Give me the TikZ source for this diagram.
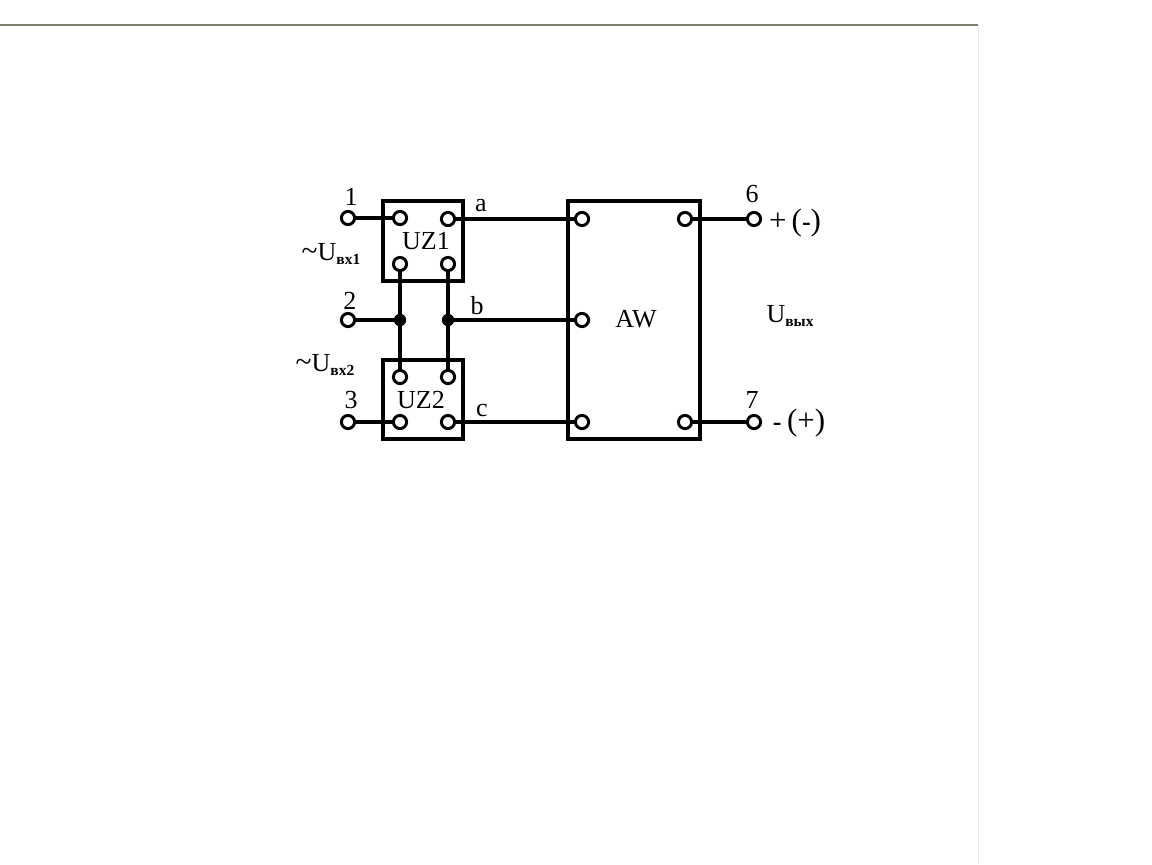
\documentclass[tikz,border=0pt]{standalone}
\usepackage{fontspec}
\setmainfont{Liberation Serif}
\usepackage{xcolor}
\usetikzlibrary{positioning}
\definecolor{pagerule}{RGB}{128,128,112}
\definecolor{pageedge}{RGB}{232,232,232}
\tikzstyle{wire} = [line width=2.3pt,black]
\newcommand{\subtxt}[1]{\raisebox{-0.35ex}{\fontsize{11}{12}\selectfont\bfseries #1}}
\newcommand{\bigtilde}{{\fontsize{21}{21}\selectfont\textasciitilde}}
\newcommand{\bigpar}[1]{{\fontsize{22}{22}\selectfont #1}}

\begin{document}
\begin{tikzpicture}[x=0.025cm, y=-0.025cm,
    block/.style={rectangle, draw, line width=2.3pt, inner sep=0pt},
    pin/.style={circle, draw, fill=white, line width=2.1pt, minimum size=0.33cm, inner sep=0pt, outer sep=0pt},
    junction/.style={circle, fill=black, minimum size=0.31cm, inner sep=0pt, outer sep=0pt},
    txt/.style={font=\fontsize{18.5}{20}\selectfont, inner sep=0pt}
]
  \useasboundingbox (0,0) rectangle (1152,864);

  % --- Page edges ---
  \coordinate (ruleL) at (0,25);
  \coordinate (ruleR) at (978,25);
  \coordinate (edgeB) at (978,864);
  \draw[pageedge, line width=0.7pt] (ruleR) -- (edgeB);
  \draw[pagerule, line width=1pt] (ruleL) -- (ruleR);

  % --- Blocks ---
  \node[block, minimum width=2cm,   minimum height=2cm]    (UZ1) at (423,241)   {};
  \node[block, minimum width=2cm,   minimum height=1.975cm] (UZ2) at (423,399.5) {};
  \node[block, minimum width=3.3cm, minimum height=5.95cm] (AW)  at (634,320)   {};

  % --- Terminals ---
  \node[pin] (T1) at (348,218) {};
  \node[pin] (T2) at (348,320) {};
  \node[pin] (T3) at (348,422) {};
  \node[pin] (T6) at (754,219) {};
  \node[pin] (T7) at (754,422) {};

  % --- Pins of the blocks ---
  \node[pin] (P1a) at (400,218) {};
  \node[pin] (P1b) at (448,219) {};
  \node[pin] (P1c) at (400,264) {};
  \node[pin] (P1d) at (448,264) {};
  \node[pin] (P2a) at (400,377) {};
  \node[pin] (P2b) at (448,377) {};
  \node[pin] (P2c) at (400,422) {};
  \node[pin] (P2d) at (448,422) {};
  \node[pin] (A1)  at (582,219) {};
  \node[pin] (A2)  at (582,320) {};
  \node[pin] (A3)  at (582,422) {};
  \node[pin] (A6)  at (685,219) {};
  \node[pin] (A7)  at (685,422) {};

  % --- Junctions ---
  \node[junction] (JL) at (400,320) {};
  \node[junction] (JR) at (448,320) {};

  % --- Wires ---
  \draw[wire] (T1) -- (P1a);
  \draw[wire] (T2) -- (JL.center);
  \draw[wire] (T3) -- (P2c);
  \draw[wire] (P1b) -- (A1);
  \draw[wire] (JR.center) -- (A2);
  \draw[wire] (P2d) -- (A3);
  \draw[wire] (P1c) -- (JL.center) -- (P2a);
  \draw[wire] (P1d) -- (JR.center) -- (P2b);
  \draw[wire] (A6) -- (T6);
  \draw[wire] (A7) -- (T7);

  % --- Labels ---
  \node[txt] (L1) at (351,197) {1};
  \node[txt] (L2) at (350,301) {2};
  \node[txt] (L3) at (351,400) {3};
  \node[txt] (L6) at (752,194) {6};
  \node[txt] (L7) at (752,400) {7};
  \node[txt] (La) at (481,206) {a};
  \node[txt] (Lb) at (477,306) {b};
  \node[txt] (Lc) at (482,410) {c};
  \node[txt] (NUZ1) at (426,241) {UZ1};
  \node[txt] (NUZ2) at (421,400) {UZ2};
  \node[txt] (NAW)  at (636,319) {AW};
  \node[txt] (Lin1) at (331,254) {\bigtilde U\subtxt{вх1}};
  \node[txt] (Lin2) at (325,365) {\bigtilde U\subtxt{вх2}};
  \node[txt] (Lout) at (790,316) {U\subtxt{вых}};
  \node[txt] (Lp) at (795,223) {\bigpar{+}\hspace{0.2em}\bigpar{(}\textbf{-}\bigpar{)}};
  \node[txt] (Lm) at (799,423) {\textbf{-}\hspace{0.22em}\bigpar{(+)}};
\end{tikzpicture}
\end{document}
